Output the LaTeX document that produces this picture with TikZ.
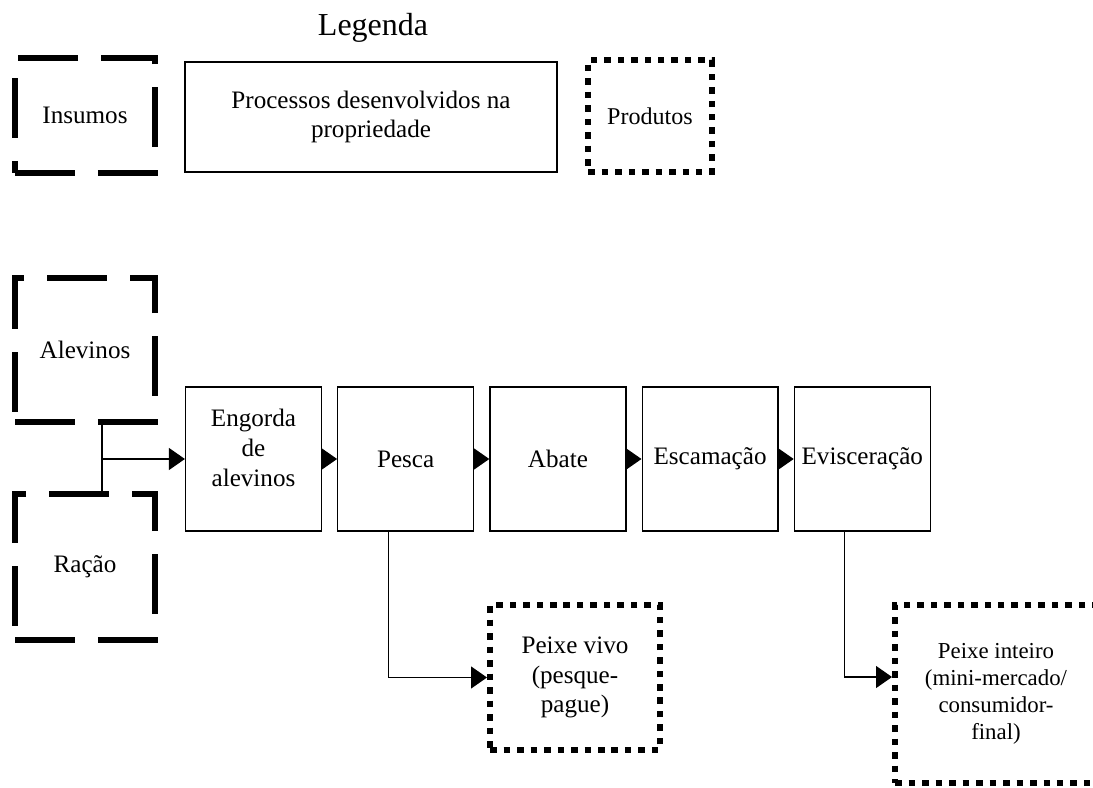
\documentclass[tikz,border=0pt]{standalone}
\usepackage{fontspec}
\setmainfont{Liberation Serif}
\usetikzlibrary{positioning,arrows.meta}

\begin{document}
\begin{tikzpicture}[
    x=0.02cm, y=-0.02cm,
    node distance=0.3cm,
    txt/.style={font=\fontsize{14.3}{17}\selectfont, align=center},
    insumo/.style={rectangle, minimum width=2.8cm, draw=black, line width=0.12cm, dash pattern=on 1.2cm off 0.46cm, txt},
    process/.style={rectangle, minimum width=2.72cm, minimum height=2.88cm, draw=black, line width=0.7pt, txt},
    produto/.style={rectangle, draw=black, line width=0.12cm, dash pattern=on 0.13cm off 0.14cm, txt},
    arrow/.style={line width=0.7pt, -{Triangle[length=0.32cm,width=0.44cm]}},
    line/.style={line width=0.7pt}
]
\useasboundingbox (0,0) rectangle (1093,788);

% Legenda
\node (legenda) [anchor=base, font=\fontsize{18.2}{21}\selectfont] at (373,35) {Legenda};
\node (leginsumo) [insumo, minimum height=2.3cm] at (85,115.5) {Insumos};
\node (legprocess) [process, minimum width=7.44cm, minimum height=2.2cm] at (371,117) {Processos desenvolvidos na\\propriedade};
\node (legproduto) [produto, minimum width=2.48cm, minimum height=2.24cm, font=\fontsize{13.7}{16}\selectfont] at (650,116) {Produtos};

% Insumos
\node (alevinos) [insumo, minimum height=2.88cm] at (85,350) {Alevinos};
\node (racao) [insumo, minimum height=2.92cm] at (85,567) {Ração};

% Processos
\node (engorda) [process, text depth=0.44cm] at (253.5,459) {Engorda\\de\\alevinos};
\node (pesca) [process, right=of engorda] {Pesca};
\node (abate) [process, right=of pesca] {Abate};
\node (escama) [process, right=of abate] {Escamação};
\node (viscera) [process, right=of escama] {Evisceração};

% Produtos
\node (vivo) [produto, minimum width=3.4cm, minimum height=2.9cm] at (575,677.5) {Peixe vivo\\(pesque-\\pague)};
\node (inteiro) [produto, minimum width=4.04cm, minimum height=3.56cm, font=\fontsize{13}{15.5}\selectfont] at (996,694) {Peixe inteiro\\(mini-mercado/\\consumidor-\\final)};

% Ligações
\coordinate (junta) at (102,459);
\draw [line] (alevinos.south -| junta) -- (racao.north -| junta);
\draw [arrow] (junta) -- (engorda.west);
\draw [arrow] (engorda) -- (pesca);
\draw [arrow] (pesca) -- (abate);
\draw [arrow] (abate) -- (escama);
\draw [arrow] (escama) -- (viscera);
\draw [arrow] ([xshift=-0.35cm]pesca.south) |- (vivo.west);
\draw [arrow] ([xshift=-0.35cm]viscera.south) |- ([yshift=0.34cm]inteiro.west);

\end{tikzpicture}
\end{document}
